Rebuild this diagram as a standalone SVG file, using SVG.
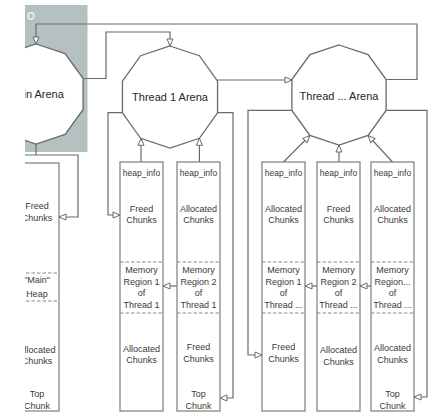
<svg xmlns="http://www.w3.org/2000/svg" width="431" height="414" viewBox="0 0 431 414">
<style>
.arena{fill:#fff;stroke:#6a6a6a;stroke-width:1.3}
.box{fill:#fff;stroke:#7d7d7d;stroke-width:1.2}
.dash{stroke:#8a8a8a;stroke-width:1.2;stroke-dasharray:3.5 2;fill:none}
.conn path{fill:none;stroke:#6a6a6a;stroke-width:1.2}
.at{font-family:"Liberation Sans",Arial,sans-serif;font-size:11px;fill:#262626;text-anchor:middle}
.bt{font-family:"Liberation Sans",Arial,sans-serif;font-size:9px;fill:#3a3a3a;text-anchor:middle}
.hi{font-size:8.5px}
</style>
<defs>
<marker id="ah" markerWidth="9" markerHeight="8" refX="8" refY="4" orient="auto" markerUnits="userSpaceOnUse">
<path d="M1,1 L8,4 L1,7 Z" fill="#fff" stroke="#6a6a6a" stroke-width="1"/>
</marker>
<clipPath id="vis"><rect x="25" y="0" width="406" height="414"/></clipPath>
</defs>
<rect width="431" height="414" fill="#fff"/>
<g clip-path="url(#vis)">
<rect id="panel" x="25" y="5" width="62.5" height="147" fill="#b5c1c1"/>
<text x="31" y="20" font-family="Liberation Sans,Arial,sans-serif" font-size="10" font-weight="bold" fill="#eef2f2" text-anchor="middle">O</text>

<g class="conn" id="connectors">
<path d="M386.1,79.5 H417 V24 H36 V44" marker-end="url(#ah)"/>
<path d="M83.1,78.5 H106 V32 H170 V46" marker-end="url(#ah)"/>
<path d="M217.5,80 H291.9" marker-end="url(#ah)"/>
<path d="M217.5,112.7 H233 V398 H220" marker-end="url(#ah)"/>
<path d="M122.4,112.7 H108 V215 H120" marker-end="url(#ah)"/>
<path d="M291.9,110.4 H248 V355 H262" marker-end="url(#ah)"/>
<path d="M386.1,110.4 H427 V397 H414" marker-end="url(#ah)"/>
<path d="M141,162 V138.3" marker-end="url(#ah)"/>
<path d="M199.4,162 V138.3" marker-end="url(#ah)"/>
<path d="M283.5,162 L309.9,135.5" marker-end="url(#ah)"/>
<path d="M339,162 V145" marker-end="url(#ah)"/>
<path d="M392.5,162 L368.1,135.5" marker-end="url(#ah)"/>
<path d="M36,144 V155"/>
<path d="M10,155 H78 V217 H59" marker-end="url(#ah)"/>
<path d="M177,286 H163" marker-end="url(#ah)"/>
<path d="M317,286 H305" marker-end="url(#ah)"/>
<path d="M371,286 H360" marker-end="url(#ah)"/>
</g>

<g id="main-arena">
<polygon class="arena" points="36,44 65.1,53.55 83.1,78.55 83.1,109.45 65.1,134.45 36,144 6.9,134.45 -11.1,109.45 -11.1,78.55 6.9,53.55"/>
<text class="at" x="36" y="98">Main Arena</text>
</g>
<g id="thread1-arena">
<polygon class="arena" points="170,46 199.4,55.74 217.55,81.24 217.55,112.76 199.4,138.26 170,148 140.6,138.26 122.45,112.76 122.45,81.24 140.6,55.74"/>
<text class="at" x="170" y="101">Thread 1 Arena</text>
</g>
<g id="threadn-arena">
<polygon class="arena" points="339,45 368.1,54.55 386.1,79.55 386.1,110.45 368.1,135.45 339,145 309.9,135.45 291.9,110.45 291.9,79.55 309.9,54.55"/>
<text class="at" x="339" y="100">Thread ... Arena</text>
</g>

<g id="main-heap">
<rect class="box" x="15" y="163" width="44" height="248"/>
<line class="dash" x1="15" y1="273" x2="59" y2="273"/>
<line class="dash" x1="15" y1="301" x2="59" y2="301"/>
<text class="bt" x="37" y="209">Freed</text>
<text class="bt" x="37" y="221">Chunks</text>
<text class="bt" x="37" y="283">"Main"</text>
<text class="bt" x="37" y="297">Heap</text>
<text class="bt" x="37" y="353">Allocated</text>
<text class="bt" x="37" y="364">Chunks</text>
<text class="bt" x="37" y="397">Top</text>
<text class="bt" x="37" y="409">Chunk</text>
</g>

<g id="t1-region1">
<rect class="box" x="120" y="162" width="43" height="249"/>
<line class="dash" x1="120" y1="262" x2="163" y2="262"/>
<line class="dash" x1="120" y1="313" x2="163" y2="313"/>
<text class="bt hi" x="141.5" y="176">heap_info</text>
<text class="bt" x="141.5" y="212">Freed</text>
<text class="bt" x="141.5" y="223">Chunks</text>
<text class="bt" x="141.5" y="273">Memory</text>
<text class="bt" x="141.5" y="285">Region 1</text>
<text class="bt" x="141.5" y="296">of</text>
<text class="bt" x="141.5" y="308">Thread 1</text>
<text class="bt" x="141.5" y="352">Allocated</text>
<text class="bt" x="141.5" y="363">Chunks</text>
</g>

<g id="t1-region2">
<rect class="box" x="177" y="162" width="43" height="249"/>
<line class="dash" x1="177" y1="262" x2="220" y2="262"/>
<line class="dash" x1="177" y1="313" x2="220" y2="313"/>
<text class="bt hi" x="198.5" y="176">heap_info</text>
<text class="bt" x="198.5" y="212">Allocated</text>
<text class="bt" x="198.5" y="223">Chunks</text>
<text class="bt" x="198.5" y="273">Memory</text>
<text class="bt" x="198.5" y="285">Region 2</text>
<text class="bt" x="198.5" y="296">of</text>
<text class="bt" x="198.5" y="308">Thread 1</text>
<text class="bt" x="198.5" y="350">Freed</text>
<text class="bt" x="198.5" y="362">Chunks</text>
<text class="bt" x="198.5" y="397">Top</text>
<text class="bt" x="198.5" y="409">Chunk</text>
</g>

<g id="tn-region1">
<rect class="box" x="262" y="162" width="43" height="249"/>
<line class="dash" x1="262" y1="262" x2="305" y2="262"/>
<line class="dash" x1="262" y1="313" x2="305" y2="313"/>
<text class="bt hi" x="283.5" y="176">heap_info</text>
<text class="bt" x="283.5" y="212">Allocated</text>
<text class="bt" x="283.5" y="223">Chunks</text>
<text class="bt" x="283.5" y="273">Memory</text>
<text class="bt" x="283.5" y="285">Region 1</text>
<text class="bt" x="283.5" y="296">of</text>
<text class="bt" x="283.5" y="308">Thread ...</text>
<text class="bt" x="283.5" y="350">Freed</text>
<text class="bt" x="283.5" y="362">Chunks</text>
</g>

<g id="tn-region2">
<rect class="box" x="317" y="162" width="43" height="249"/>
<line class="dash" x1="317" y1="262" x2="360" y2="262"/>
<line class="dash" x1="317" y1="313" x2="360" y2="313"/>
<text class="bt hi" x="338.5" y="176">heap_info</text>
<text class="bt" x="338.5" y="212">Freed</text>
<text class="bt" x="338.5" y="223">Chunks</text>
<text class="bt" x="338.5" y="273">Memory</text>
<text class="bt" x="338.5" y="285">Region 2</text>
<text class="bt" x="338.5" y="296">of</text>
<text class="bt" x="338.5" y="308">Thread ...</text>
<text class="bt" x="338.5" y="353">Allocated</text>
<text class="bt" x="338.5" y="365">Chunks</text>
</g>

<g id="tn-region3">
<rect class="box" x="371" y="162" width="43" height="249"/>
<line class="dash" x1="371" y1="262" x2="414" y2="262"/>
<line class="dash" x1="371" y1="313" x2="414" y2="313"/>
<text class="bt hi" x="392.5" y="176">heap_info</text>
<text class="bt" x="392.5" y="212">Allocated</text>
<text class="bt" x="392.5" y="223">Chunks</text>
<text class="bt" x="392.5" y="273">Memory</text>
<text class="bt" x="392.5" y="285">Region...</text>
<text class="bt" x="392.5" y="296">of</text>
<text class="bt" x="392.5" y="308">Thread ...</text>
<text class="bt" x="392.5" y="351">Allocated</text>
<text class="bt" x="392.5" y="363">Chunks</text>
<text class="bt" x="392.5" y="397">Top</text>
<text class="bt" x="392.5" y="409">Chunk</text>
</g>
</g>
</svg>
